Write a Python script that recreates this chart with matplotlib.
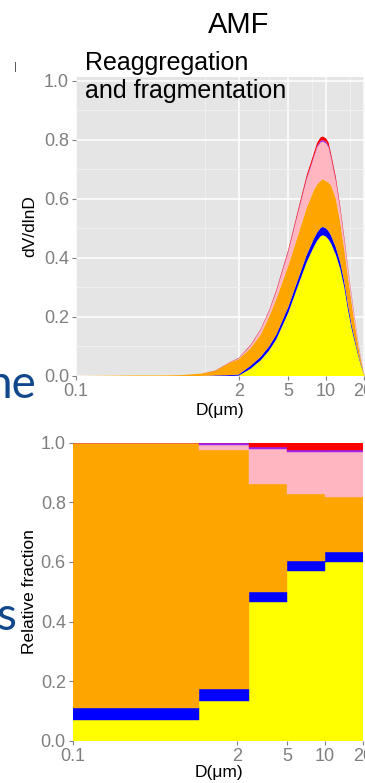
import numpy as np
import matplotlib
matplotlib.use("Agg")
import matplotlib.pyplot as plt

plt.rcParams['font.family'] = ['Liberation Sans', 'DejaVu Sans']

# size distribution (dV/dlnD), one list per stacked layer
d_um = [0.1, 0.3, 0.5, 0.7, 1.0, 1.3, 1.7, 2.0, 2.5, 3.0, 3.5, 4.0, 5.0, 6.0, 7.0,
        8.0, 8.5, 9.0, 9.4, 10, 10.5, 11, 12, 13, 14, 15, 16, 17, 18, 19, 20, 20.5]
yellow_v = [0, 0, 0, 0, 0, 0, 0, 0.001, 0.025, 0.053, 0.086, 0.124, 0.215, 0.308, 0.385,
            0.438, 0.458, 0.472, 0.477, 0.472, 0.462, 0.448, 0.41, 0.363, 0.301, 0.224, 0.162, 0.115,
            0.073, 0.036, 0.008, 0]
blue_v = [0, 0, 0, 0, 0, 0.002, 0.003, 0.004, 0.01, 0.012, 0.014, 0.016, 0.02, 0.022, 0.025,
          0.027, 0.028, 0.028, 0.028, 0.028, 0.028, 0.027, 0.025, 0.022, 0.019, 0.016, 0.013, 0.01,
          0.007, 0.004, 0.002, 0]
orange_v = [0, 0.002, 0.002, 0.003, 0.008, 0.015, 0.042, 0.052, 0.06, 0.075, 0.10, 0.12, 0.14, 0.15, 0.16,
            0.165, 0.163, 0.16, 0.162, 0.16, 0.165, 0.17, 0.165, 0.135, 0.11, 0.095, 0.075, 0.05,
            0.03, 0.015, 0.004, 0]
pink_v = [0, 0, 0, 0, 0, 0, 0.001, 0.002, 0.008, 0.016, 0.018, 0.025, 0.045, 0.075, 0.095,
          0.11, 0.125, 0.13, 0.127, 0.128, 0.118, 0.09, 0.058, 0.042, 0.03, 0.025, 0.02, 0.015,
          0.01, 0.005, 0.001, 0]
purple_v = [0, 0, 0, 0, 0, 0, 0, 0.001, 0.001, 0.001, 0.001, 0.002, 0.003, 0.003, 0.004,
            0.004, 0.0045, 0.005, 0.005, 0.005, 0.005, 0.0045, 0.004, 0.0035, 0.003, 0.002, 0.002, 0.0015,
            0.001, 0.001, 0, 0]
red_v = [0, 0, 0, 0, 0, 0.001, 0.001, 0.001, 0.002, 0.002, 0.003, 0.004, 0.006, 0.008, 0.01,
         0.011, 0.0115, 0.012, 0.012, 0.012, 0.012, 0.011, 0.01, 0.008, 0.007, 0.005, 0.004, 0.003,
         0.002, 0.001, 0, 0]

# relative fraction per size bin
bin_edges = [0.1, 1.0, 2.5, 5.0, 10.0, 20.0]
yellow_f = [0.069, 0.134, 0.464, 0.570, 0.599]
blue_f = [0.040, 0.038, 0.036, 0.033, 0.035]
orange_f = [0.891, 0.803, 0.361, 0.225, 0.183]
pink_f = [0.0, 0.018, 0.117, 0.141, 0.151]
purple_f = [0.0, 0.007, 0.006, 0.007, 0.007]
red_f = [0.0, 0.0, 0.016, 0.024, 0.025]

layer_colors = ['#FFFF00', '#0000FF', '#FFA500', '#FFB6C1', '#A020F0', '#FF0000']

x_ticks = [0.1, 2, 5, 10, 20]
x_ticklabels = ['0.1', '2', '5', '10', '20']
x_minor = [1.08, 3.5, 7.7, 15.6]
y_ticks = [0, 0.2, 0.4, 0.6, 0.8, 1.0]
y_ticklabels = ['0.0', '0.2', '0.4', '0.6', '0.8', '1.0']
y_minor = [0.1, 0.3, 0.5, 0.7, 0.9]

tick_grey = '#7F7F7F'

fig = plt.figure(figsize=(3.65, 7.83), dpi=100)

# top panel: stacked size distribution
ax1 = fig.add_axes([0.2082, 0.5198, 0.7918, 0.3819])
ax1.set_facecolor('#E5E5E5')
ax1.stackplot(d_um, yellow_v, blue_v, orange_v, pink_v, purple_v, red_v,
              colors=layer_colors, linewidth=0)
ax1.set_xscale('log')
ax1.set_xlim(0.1, 20.5)
ax1.set_ylim(0, 1.0125)
ax1.set_xticks(x_ticks, labels=x_ticklabels)
ax1.set_xticks(x_minor, minor=True)
ax1.xaxis.set_minor_formatter(plt.NullFormatter())
ax1.set_yticks(y_ticks, labels=y_ticklabels)
ax1.set_yticks(y_minor, minor=True)
ax1.set_axisbelow(True)
ax1.grid(which='major', color='white', linewidth=1.1)
ax1.grid(which='minor', color='#F2F2F2', linewidth=0.6)
for s in ax1.spines.values():
    s.set_visible(False)

# bottom panel: stacked relative fractions
ax2 = fig.add_axes([0.1992, 0.054, 0.7953, 0.3806])
lefts = np.array(bin_edges[:-1])
widths = np.diff(bin_edges)
bottom = np.zeros(len(lefts))
for vals, c in zip([yellow_f, blue_f, orange_f, pink_f, purple_f, red_f], layer_colors):
    vals = np.array(vals)
    ax2.bar(lefts, vals, width=widths, bottom=bottom, align='edge',
            color=c, edgecolor=c, linewidth=0.3)
    bottom += vals
ax2.set_xscale('log')
ax2.set_xlim(0.1, 20)
ax2.set_ylim(0, 1.0)
ax2.set_xticks(x_ticks, labels=x_ticklabels)
ax2.xaxis.set_minor_locator(plt.NullLocator())
ax2.set_yticks(y_ticks, labels=y_ticklabels)
for s in ax2.spines.values():
    s.set_visible(False)

for ax in (ax1, ax2):
    ax.tick_params(which='major', colors=tick_grey, labelcolor=tick_grey,
                   labelsize=13, length=3, width=0.8, pad=2)
    ax.tick_params(which='minor', length=0)

# titles and axis labels
fig.text(239 / 365, 1 - 33 / 783, 'AMF', ha='center', va='baseline', fontsize=21)
fig.text(85 / 365, 1 - 70 / 783, 'Reaggregation', ha='left', va='baseline', fontsize=18)
fig.text(85 / 365, 1 - 98 / 783, 'and fragmentation', ha='left', va='baseline', fontsize=18)
fig.text(30 / 365, 1 - 226 / 783, 'dV/dlnD', rotation=90, ha='center', va='center', fontsize=12.5)
fig.text(220 / 365, 1 - 410 / 783, 'D(\u03bcm)', ha='center', va='center', fontsize=12.5)
fig.text(29 / 365, 1 - 592 / 783, 'Relative fraction', rotation=90, ha='center', va='center', fontsize=12.5)
fig.text(219 / 365, 1 - 773 / 783, 'D(\u03bcm)', ha='center', va='center', fontsize=12.5)

# pieces of slide text showing at the left edge
fig.text(36 / 365, 1 - 398 / 783, 'ne', ha='right', va='baseline', fontsize=33,
         color='#11488C', family=['Lato', 'DejaVu Sans'])
fig.text(16 / 365, 1 - 630 / 783, 's', ha='right', va='baseline', fontsize=33,
         color='#11488C', family=['Lato', 'DejaVu Sans'])
fig.text(15 / 365, 1 - 67 / 783, '|', ha='center', va='center', fontsize=8, color='#444444')

fig.savefig('out.png', dpi=100)
